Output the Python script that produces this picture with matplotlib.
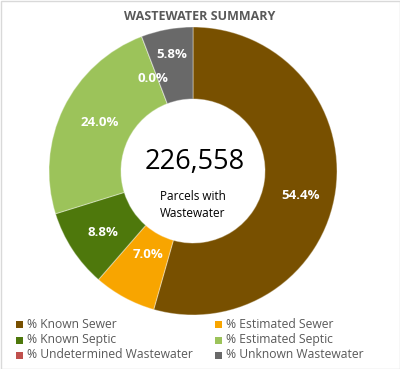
import numpy as np
import matplotlib
matplotlib.use("Agg")
import matplotlib.pyplot as plt
from matplotlib.patches import Rectangle

plt.rcParams['font.family'] = ['Open Sans', 'DejaVu Sans']

title = "WASTEWATER SUMMARY"
categories = ["% Known Sewer", "% Estimated Sewer", "% Known Septic",
              "% Estimated Septic", "% Undetermined Wastewater", "% Unknown Wastewater"]
values = [54.4, 7.0, 8.8, 24.0, 0.0, 5.8]
colors = ["#785000", "#F8A500", "#4E780C", "#9CC35A", "#C0504D", "#696969"]
total_label = "226,558"
center_caption = "Parcels with\nWastewater"

W, H = 400, 369
fig = plt.figure(figsize=(W / 100, H / 100), dpi=100)
ax = fig.add_axes([0, 0, 1, 1])

cx, cy = 193, H - 171
R, ring = 144, 72

ax.pie(values, colors=colors, startangle=90, counterclock=False, radius=R,
       center=(cx, cy),
       wedgeprops=dict(width=ring, edgecolor=(1, 1, 1, 0.35), linewidth=0.8))

# data labels
nudges = [(1, -10), (6, 11), (0, -2), (4, 1), (-2, -8), (-2, 10)]
cum = np.cumsum([0] + values[:-1])
rmid = R - ring / 2
for v, c0, (dx, dy) in zip(values, cum, nudges):
    ang = np.deg2rad(90 - 3.6 * (c0 + v / 2))
    x = cx + rmid * np.cos(ang) + dx
    y = cy + rmid * np.sin(ang) + dy
    ax.text(x, y, f"{v:.1f}%", color="white", fontsize=9.5, fontweight="bold",
            ha="center", va="center")

# center text
ax.text(cx + 2, H - 162, total_label, fontsize=19.5, ha="center", va="center", color="black")
ax.text(cx, H - 205, center_caption, fontsize=8.5, ha="center", va="center",
        color="black", linespacing=1.35)

# title
ax.text(200, H - 16, title, fontsize=9, fontweight="bold", ha="center", va="center",
        color="#595959")

# legend
col_x = [19, 218]
row_y = [324, 340, 355]
for i, (lab, col) in enumerate(zip(categories, colors)):
    r, c = divmod(i, 2)
    x0, y0 = col_x[c], H - row_y[r]
    ax.add_patch(Rectangle((x0 - 3.5, y0 - 3.5), 7, 7, facecolor=col, edgecolor="none"))
    ax.text(x0 + 8, y0, lab, fontsize=8.7, ha="left", va="center", color="#595959")

# border
ax.add_patch(Rectangle((0.5, 0.5), W - 1, H - 1, fill=False, edgecolor="#D9D9D9", linewidth=1))

ax.set_xlim(0, W)
ax.set_ylim(0, H)
ax.set_aspect("auto")
ax.axis("off")
fig.savefig("out.png", dpi=100)
